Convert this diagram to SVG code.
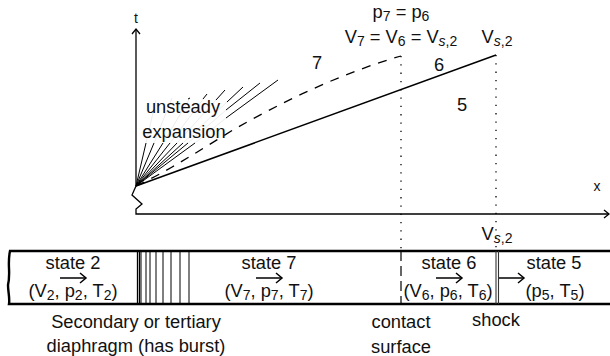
<svg xmlns="http://www.w3.org/2000/svg" width="610" height="356" viewBox="0 0 610 356">
<style>
text{font-family:"Liberation Sans",Arial,sans-serif;font-size:18.300px;fill:#111;text-anchor:middle}
.sm{font-size:14px}
.ax-l{font-size:14px}
.it{font-style:italic}
.ax,.fan,.s,.d,.dot,.t,.a{fill:none;stroke:#000}
.ax{stroke-width:1.300}
.fan{stroke-width:1}
.faint{fill:none;stroke:#e6e6e6;stroke-width:.8}
.s{stroke-width:1.500}
.d{stroke-width:1.300;stroke-dasharray:9 8}
.dot{stroke-width:1.300;stroke-dasharray:1.300 7}
.t{stroke-width:2.400}
.a{stroke-width:1.500}
</style>
<defs>
<marker id="h" markerUnits="userSpaceOnUse" markerWidth="12" markerHeight="12" refX="10" refY="6" orient="auto"><path d="M5 2 L10 6 L5 10" fill="none" stroke="#000" stroke-width="1.300"/></marker>
<marker id="b" markerUnits="userSpaceOnUse" markerWidth="14" markerHeight="14" refX="11" refY="7" orient="auto"><path d="M5 2 L11 7 L5 12" fill="none" stroke="#000" stroke-width="1.500"/></marker>
</defs>
<g id="connectors">
<path class="ax" d="M136 186V29" marker-end="url(#h)"/>
<path class="ax" d="M136 186L132 195 L142 204 L136 209 L136 214 H609" marker-end="url(#h)"/>
<g id="fan-faint">
<path class="faint" d="M146 143L156 100M154 143L172 98M163 143L190 98M170 143L207 94M177 143L225 90M183 143L243 87M188 143L226 110M195 143L226 118"/>
</g>
<g id="fan">
<path class="fan" d="M136 186L146 143M136 186L154 143M136 186L163 143M136 186L170 143M136 186L177 143M136 186L183 143M136 186L188 143M136 186L195 143"/>
<path class="fan" d="M188 99L190 98M203 99L207 94M216 100L225 90M227 102L243 87M226 110L260 83M226 118L278 80"/>
</g>
<path class="d" d="M136 186C170 170 200 150 233 130C285 100 345 72 401 56"/>
<path class="s" d="M136 186L496 55"/>
<path class="dot" d="M401 56V251"/>
<path class="dot" d="M496 55V251"/>
<path class="a" d="M60 278H86" marker-end="url(#b)"/>
<path class="a" d="M256 278H282" marker-end="url(#b)"/>
<path class="a" d="M436 278H462" marker-end="url(#b)"/>
<path class="a" d="M498 278H524" marker-end="url(#b)"/>
</g>
<g id="tube">
<path class="t" d="M610 251H10C7 265 11 272 8 285C8 292 10 298 9 304H610"/>
<path d="M401 251V304" fill="none" stroke="#000" stroke-width="1.200" stroke-dasharray="10 5"/>
<path d="M496 251V304M498.500 251V304" fill="none" stroke="#333" stroke-width="1.100"/>
</g>
<g id="diaphragm">
<path d="M137.500 251V304M139.500 251V304" fill="none" stroke="#000" stroke-width="1.300"/>
<path d="M141 251V304M146 251V304M150 251V304M156 251V304M163 251V304M171 251V304M180 251V304M189 251V304" fill="none" stroke="#000" stroke-width="1"/>
</g>
<g id="axis-labels">
<text x="136" y="23" class="ax-l">t</text>
<text x="597" y="191" class="ax-l">x</text>
</g>
<g id="region-labels">
<text x="317" y="69">7</text>
<text x="439" y="71">6</text>
<text x="462" y="111">5</text>
<text x="183" y="113">unsteady</text>
<text x="184" y="138">expansion</text>
</g>
<g id="top-labels">
<text x="401" y="18">p<tspan class="sm" dy="3">7</tspan><tspan dy="-3"> = p</tspan><tspan class="sm" dy="3">6</tspan></text>
<text x="401" y="43">V<tspan class="sm" dy="3">7</tspan><tspan dy="-3"> = V</tspan><tspan class="sm" dy="3">6</tspan><tspan dy="-3"> = V</tspan><tspan class="sm it" dy="3">s</tspan><tspan class="sm">,2</tspan></text>
<text x="497" y="43">V<tspan class="sm it" dy="3">s</tspan><tspan class="sm">,2</tspan></text>
<text x="497" y="240">V<tspan class="sm it" dy="3">s</tspan><tspan class="sm">,2</tspan></text>
</g>
<g id="state-2"><text x="73" y="269">state 2</text><text x="73" y="297">(V<tspan class="sm" dy="3">2</tspan><tspan dy="-3">, p</tspan><tspan class="sm" dy="3">2</tspan><tspan dy="-3">, T</tspan><tspan class="sm" dy="3">2</tspan><tspan dy="-3">)</tspan></text></g>
<g id="state-7"><text x="269" y="269">state 7</text><text x="269" y="297">(V<tspan class="sm" dy="3">7</tspan><tspan dy="-3">, p</tspan><tspan class="sm" dy="3">7</tspan><tspan dy="-3">, T</tspan><tspan class="sm" dy="3">7</tspan><tspan dy="-3">)</tspan></text></g>
<g id="state-6"><text x="449" y="269">state 6</text><text x="448" y="297">(V<tspan class="sm" dy="3">6</tspan><tspan dy="-3">, p</tspan><tspan class="sm" dy="3">6</tspan><tspan dy="-3">, T</tspan><tspan class="sm" dy="3">6</tspan><tspan dy="-3">)</tspan></text></g>
<g id="state-5"><text x="554" y="269">state 5</text><text x="555" y="297">(p<tspan class="sm" dy="3">5</tspan><tspan dy="-3">, T</tspan><tspan class="sm" dy="3">5</tspan><tspan dy="-3">)</tspan></text></g>
<g id="captions">
<text x="136" y="328">Secondary or tertiary</text>
<text x="136" y="352">diaphragm (has burst)</text>
<text x="401" y="328">contact</text>
<text x="401" y="353">surface</text>
<text x="496" y="326">shock</text>
</g>
</svg>
